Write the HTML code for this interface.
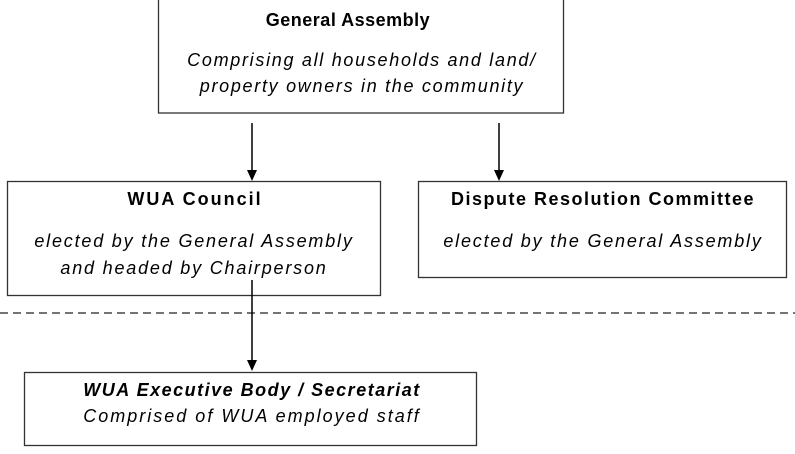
<!DOCTYPE html>
<html><head><style>
body{margin:0;background:#fff;}
svg text{font-family:"Liberation Sans",Arial,sans-serif;fill:#000;}
.t{font-weight:bold;font-size:18px;letter-spacing:2px;}
.i{font-style:italic;font-size:18px;letter-spacing:1.8px;}
</style></head><body>
<svg width="795" height="449" xmlns="http://www.w3.org/2000/svg">
<g fill="#fff" stroke="#333" stroke-width="1.3">
<rect x="158.5" y="-1" width="405" height="114"/>
<rect x="7.5" y="181.5" width="373" height="114"/>
<rect x="418.5" y="181.5" width="368" height="96"/>
<rect x="24.5" y="372.5" width="452" height="73"/>
</g>
<line x1="0" y1="313" x2="795" y2="313" stroke="#222" stroke-width="1.2" stroke-dasharray="8,5"/>
<g stroke="#000" stroke-width="1.5">
<line x1="252" y1="123" x2="252" y2="172"/>
<line x1="499" y1="123" x2="499" y2="172"/>
<line x1="252" y1="280" x2="252" y2="362"/>
</g>
<g fill="#000">
<polygon points="247,170 257,170 252,181"/>
<polygon points="494,170 504,170 499,181"/>
<polygon points="247,360 257,360 252,371"/>
</g>
<text class="t" x="348" y="26" text-anchor="middle" style="letter-spacing:0.5px">General Assembly</text>
<text class="i" x="362" y="66" text-anchor="middle" style="letter-spacing:1.7px">Comprising all households and land/</text>
<text class="i" x="362" y="92" text-anchor="middle" style="letter-spacing:1.7px">property owners in the community</text>
<text class="t" x="195" y="205" text-anchor="middle">WUA Council</text>
<text class="i" x="194" y="247" text-anchor="middle">elected by the General Assembly</text>
<text class="i" x="194" y="274" text-anchor="middle">and headed by Chairperson</text>
<text class="t" x="603" y="205" text-anchor="middle" style="letter-spacing:1.5px">Dispute Resolution Committee</text>
<text class="i" x="603" y="247" text-anchor="middle">elected by the General Assembly</text>
<text class="t" x="252" y="396" text-anchor="middle" font-style="italic" style="letter-spacing:1.5px">WUA Executive Body / Secretariat</text>
<text class="i" x="252" y="422" text-anchor="middle" style="letter-spacing:2px">Comprised of WUA employed staff</text>
</svg>
</body></html>
